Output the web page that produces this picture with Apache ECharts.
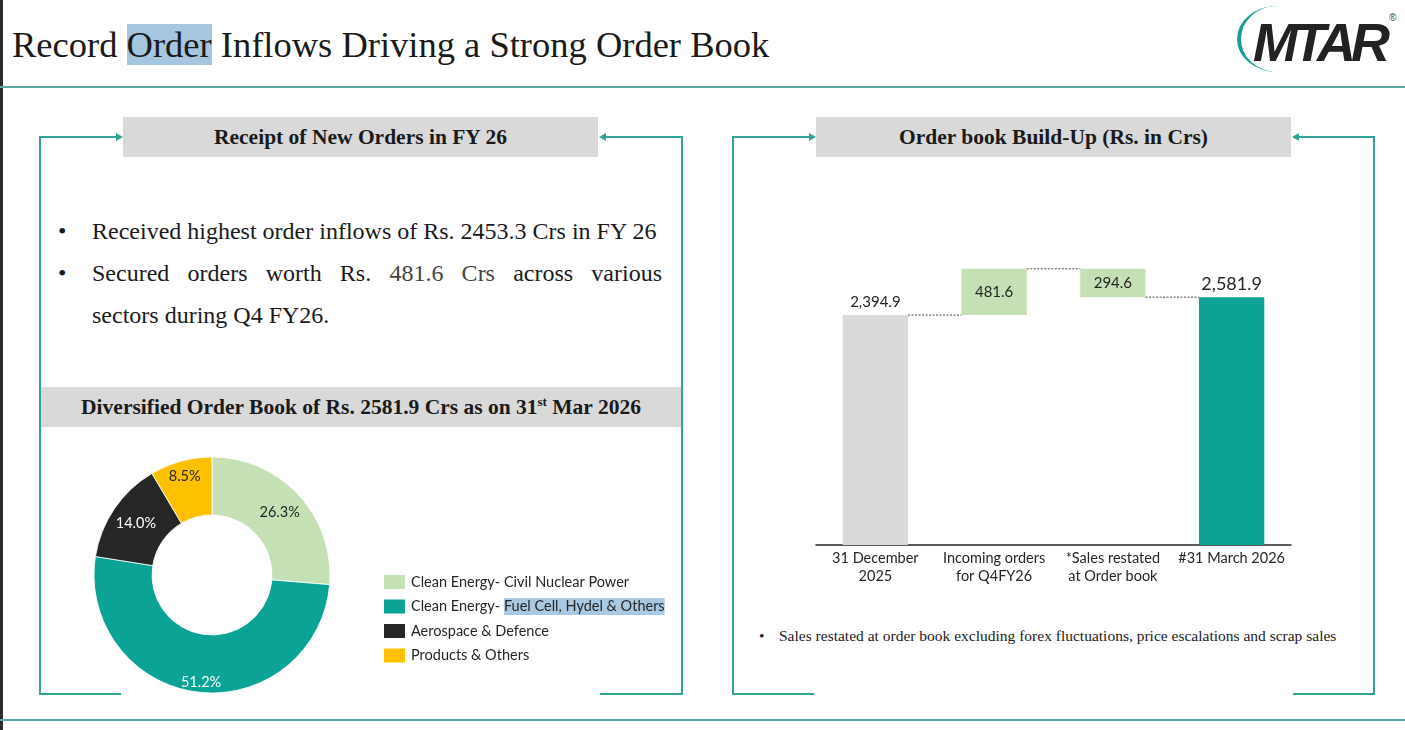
<!DOCTYPE html>
<html>
<head>
<meta charset="utf-8">
<script src="https://cdn.jsdelivr.net/npm/echarts@6/dist/echarts.min.js"></script>
<style>
html, body { margin: 0; padding: 0; background: #fff; }
#page { position: relative; width: 1405px; height: 730px; overflow: hidden; font-family: "Liberation Serif", serif; color: #1a1a1a; }
#page div { position: absolute; }
.edge { left: 0; top: 0; width: 3px; height: 730px; background: #2b2b2b; }
.rule { left: 0; width: 1405px; height: 2px; background: #5aa9a4; }
.title { left: 12px; top: 21px; font-size: 36.5px; line-height: 48px; white-space: nowrap; }
.title span { background: #a6c6df; }
.ln { background: #33a39a; }
.arr-r { width: 0; height: 0; border-top: 4px solid transparent; border-bottom: 4px solid transparent; border-left: 7px solid #33a39a; }
.arr-l { width: 0; height: 0; border-top: 4px solid transparent; border-bottom: 4px solid transparent; border-right: 7px solid #33a39a; }
.head { background: #d9d9d9; font-weight: bold; font-size: 21.5px; text-align: center; line-height: 40px; height: 40px; white-space: nowrap; }
.head sup { font-size: 13px; line-height: 0; }
.blt { font-size: 24px; line-height: 42px; white-space: nowrap; }
.just { text-align: justify; text-align-last: justify; width: 570px; }
.just span { color: #444; }
.note { font-size: 15.5px; line-height: 20px; white-space: nowrap; color: #222; }
.arc { left: 1237px; top: 6px; width: 80px; height: 66px; border-left: 4px solid #1a9e8f; border-radius: 50%; box-sizing: border-box; }
.logo { left: 1253px; top: 10px; font-family: "Liberation Sans", sans-serif; font-weight: bold; font-style: italic; font-size: 54px; line-height: 64px; letter-spacing: -5px; color: #222; }
.reg { left: 1389px; top: 12px; font-family: "Liberation Sans", sans-serif; font-size: 10px; color: #444; }
#chart { left: 0; top: 0; width: 1405px; height: 730px; }
</style>
</head>
<body>
<div id="page">
  <div class="edge"></div>
  <div class="title">Record <span>Order</span> Inflows Driving a Strong Order Book</div>
  <div class="arc"></div>
  <div class="logo">MTAR</div>
  <div class="reg">®</div>
  <div class="rule" style="top:86px"></div>
  <div class="rule" style="top:719px"></div>

  <!-- left panel frame -->
  <div class="ln" style="left:39px;top:136px;width:2px;height:559px"></div>
  <div class="ln" style="left:681px;top:136px;width:2px;height:559px"></div>
  <div class="ln" style="left:39px;top:136px;width:78px;height:2px"></div>
  <div class="arr-r" style="left:116px;top:133px"></div>
  <div class="ln" style="left:605px;top:136px;width:78px;height:2px"></div>
  <div class="arr-l" style="left:599px;top:133px"></div>
  <div class="ln" style="left:39px;top:693px;width:82px;height:2px"></div>
  <div class="ln" style="left:600px;top:693px;width:83px;height:2px"></div>
  <div class="head" style="left:123px;top:117px;width:475px">Receipt of New Orders in FY 26</div>

  <div class="blt" style="left:58px;top:210px">•</div>
  <div class="blt" style="left:92px;top:210px">Received highest order inflows of Rs. 2453.3 Crs in FY 26</div>
  <div class="blt" style="left:58px;top:252px">•</div>
  <div class="blt just" style="left:92px;top:252px">Secured orders worth Rs. <span>481.6 Crs</span> across various</div>
  <div class="blt" style="left:92px;top:294px">sectors during Q4 FY26.</div>

  <div class="head" style="left:41px;top:387px;width:640px">Diversified Order Book of Rs. 2581.9 Crs as on 31<sup>st</sup> Mar 2026</div>

  <!-- right panel frame -->
  <div class="ln" style="left:732px;top:136px;width:2px;height:559px"></div>
  <div class="ln" style="left:1373px;top:136px;width:2px;height:559px"></div>
  <div class="ln" style="left:732px;top:136px;width:78px;height:2px"></div>
  <div class="arr-r" style="left:809px;top:133px"></div>
  <div class="ln" style="left:1298px;top:136px;width:77px;height:2px"></div>
  <div class="arr-l" style="left:1292px;top:133px"></div>
  <div class="ln" style="left:732px;top:693px;width:82px;height:2px"></div>
  <div class="ln" style="left:1293px;top:693px;width:82px;height:2px"></div>
  <div class="head" style="left:816px;top:117px;width:475px">Order book Build-Up (Rs. in Crs)</div>

  <div class="note" style="left:759px;top:626px">•</div>
  <div class="note" style="left:779px;top:626px">Sales restated at order book excluding forex fluctuations, price escalations and scrap sales</div>

  <div id="chart"></div>
</div>
<script>
// 订单结构（环形图）
var sectorNames = ['Clean Energy- Civil Nuclear Power', 'Clean Energy- Fuel Cell, Hydel & Others', 'Aerospace & Defence', 'Products & Others'];
var sectorShares = [26.3, 51.2, 14.0, 8.5];

// 订单簿变化（瀑布图）
var stepNames = ['31 December\n2025', 'Incoming orders\nfor Q4FY26', '*Sales restated\nat Order book', '#31 March 2026'];
var stepValues = [2394.9, 481.6, 294.6, 2581.9];

(function () {
	var sectorColors = ['#c5e0b4', '#0aa396', '#262626', '#ffc000'];
	var sectorLabelColors = ['#262626', '#ffffff', '#ffffff', '#262626'];
	var barColors = ['#d9d9d9', '#c5e0b4', '#c5e0b4', '#0aa396'];
	var sansFont = 'Lato, "Open Sans", sans-serif';

	// 瀑布图的透明底座和连接线高度
	var opening = stepValues[0];
	var afterIncoming = opening + stepValues[1];
	var afterSales = afterIncoming - stepValues[2];
	var baseData = [0, opening, afterSales, 0];
	var levels = [[0, opening], [1, afterIncoming], [2, afterSales]];

	function fmt(v) {
		return v.toLocaleString('en-US', { minimumFractionDigits: 1, maximumFractionDigits: 1 });
	}

	var barData = stepValues.map(function (v, i) {
		var item = { value: v, itemStyle: { color: barColors[i] } };
		if (i === 0) item.label = { position: 'top', distance: 5, fontSize: 15 };
		if (i === 3) item.label = { position: 'top', distance: 4, fontSize: 18 };
		return item;
	});

	var pieData = sectorShares.map(function (v, i) {
		return {
			value: v,
			name: sectorNames[i],
			itemStyle: { color: sectorColors[i] },
			label: { color: sectorLabelColors[i] }
		};
	});

	var myChart = echarts.init(document.getElementById('chart'));
	var option = {
		animation: false,
		textStyle: { fontFamily: sansFont },
		legend: {
			orient: 'vertical',
			left: 382,
			top: 573,
			padding: 0,
			itemWidth: 23,
			itemHeight: 16,
			itemGap: 6.5,
			icon: 'rect',
			data: sectorNames,
			formatter: function (name) {
				if (name === sectorNames[1]) return 'Clean Energy- {hl|Fuel Cell, Hydel & Others}';
				return name;
			},
			textStyle: {
				color: '#262626',
				fontSize: 14.5,
				fontFamily: sansFont,
				rich: {
					hl: { backgroundColor: '#a9c9e3', fontSize: 14.5, fontFamily: sansFont, color: '#262626', padding: [1, 0, 1, 0] }
				}
			}
		},
		grid: {
			left: 816,
			top: 257,
			width: 475,
			height: 288
		},
		xAxis: {
			type: 'category',
			data: stepNames,
			axisLine: { lineStyle: { color: '#262626', width: 1.5 } },
			axisTick: { show: false },
			axisLabel: {
				interval: 0,
				color: '#262626',
				fontSize: 14.5,
				lineHeight: 18,
				margin: 4,
				fontFamily: sansFont
			}
		},
		yAxis: {
			type: 'value',
			min: 0,
			max: 3000,
			show: false
		},
		series: [
			{
				name: 'base',
				type: 'bar',
				stack: 'wf',
				barWidth: '55%',
				itemStyle: { color: 'transparent' },
				silent: true,
				data: baseData
			},
			{
				name: 'step',
				type: 'bar',
				stack: 'wf',
				barWidth: '55%',
				label: {
					show: true,
					position: 'inside',
					color: '#262626',
					fontSize: 15,
					fontFamily: sansFont,
					formatter: function (p) { return fmt(p.value); }
				},
				data: barData
			},
			{
				// 柱子之间的虚线
				name: 'link',
				type: 'custom',
				z: 5,
				silent: true,
				renderItem: function (params, api) {
					var i = api.value(0);
					var p0 = api.coord([i, api.value(1)]);
					var p1 = api.coord([i + 1, api.value(1)]);
					var half = api.size([1, 0])[0] * 0.55 / 2;
					return {
						type: 'line',
						shape: { x1: p0[0] + half, y1: p0[1], x2: p1[0] - half, y2: p1[1] },
						style: { stroke: '#444', lineWidth: 1, lineDash: [2, 1.5] }
					};
				},
				data: levels
			},
			{
				name: 'sectors',
				type: 'pie',
				center: [212, 575],
				radius: [60, 118],
				startAngle: 90,
				clockwise: true,
				avoidLabelOverlap: false,
				itemStyle: { borderColor: '#fff', borderWidth: 0.8 },
				label: {
					show: true,
					position: 'inside',
					fontSize: 14.5,
					fontFamily: sansFont,
					formatter: function (p) { return p.value.toFixed(1) + '%'; }
				},
				labelLine: { show: false },
				labelLayout: function (p) {
					if (p.dataIndex === 1) return { dy: 16 };
					if (p.dataIndex === 3) return { dx: -3, dy: -10 };
				},
				data: pieData
			}
		]
	};
	myChart.setOption(option);
	window.addEventListener('resize', function () {
		myChart.resize();
	});
})();
</script>
</body>
</html>
